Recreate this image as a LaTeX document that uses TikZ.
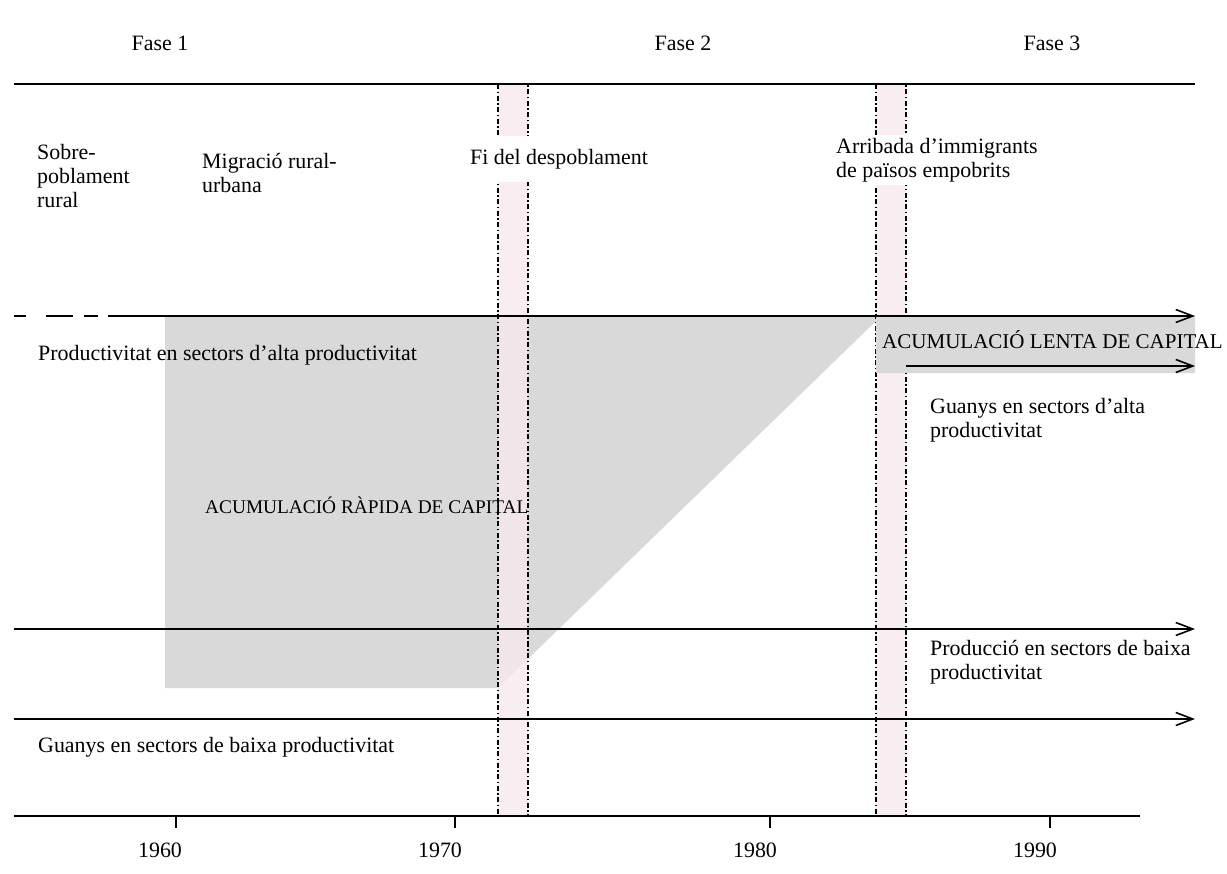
\documentclass[tikz,border=0pt]{standalone}
\usepackage{fontspec}
\setmainfont{Liberation Serif}
\usetikzlibrary{arrows.meta}
\definecolor{shadegray}{RGB}{217,217,217}
\definecolor{barpink}{RGB}{246,234,238}
\begin{document}
\begin{tikzpicture}[x=1bp,y=-1bp,
  every node/.style={font=\fontsize{22}{24}\selectfont, inner sep=0pt},
  lbl/.style={anchor=west, align=left},
  capslbl/.style={anchor=west},
  axisline/.style={line width=1.6bp, black},
  flow/.style={line width=1.6bp, -{Straight Barb[length=17bp,width=13bp,line width=1.6bp]}},
  periodbar/.style={fill=barpink, fill opacity=0.8, draw=black, draw opacity=1, line width=2bp,
    dash pattern=on 5bp off 2.5bp on 1.5bp off 2.5bp},
  gapbox/.style={fill=white, inner xsep=3bp}
]
\useasboundingbox (0,0) rectangle (1227,874);

% shaded accumulation area
\fill[shadegray] (165,316) -- (1195,316) -- (1195,373) -- (876,373) -- (876,321)
  -- (498,688) -- (165,688) -- cycle;

% period bars
\draw[periodbar] (498,84) rectangle (528,816);
\draw[periodbar] (876,84) rectangle (906,816);

% slow accumulation box on top of second bar
\fill[shadegray] (876,316) rectangle (1195,373);

% coordinates
\coordinate (topL) at (14,84);
\coordinate (topR) at (1195,84);
\coordinate (axL) at (14,816);
\coordinate (axR) at (1140,816);
\coordinate (dashS) at (14,316);
\coordinate (a1S) at (108,316);
\coordinate (a1E) at (1195,316);
\coordinate (a2S) at (906,366);
\coordinate (a2E) at (1195,366);
\coordinate (a3S) at (14,629);
\coordinate (a3E) at (1195,629);
\coordinate (a4S) at (14,719);
\coordinate (a4E) at (1195,719);
\coordinate (t1) at (176,816);
\coordinate (t2) at (455,816);
\coordinate (t3) at (770,816);
\coordinate (t4) at (1050,816);

% horizontal lines
\draw[axisline] (topL) -- (topR);
\draw[axisline] (axL) -- (axR);
\foreach \t in {t1,t2,t3,t4} \draw[axisline] (\t) -- ++(0,12);

\draw[axisline, dash pattern=on 12bp off 20bp on 27bp off 11bp on 14bp off 11bp] (dashS) -- (a1S);
\draw[flow] (a1S) -- (a1E);
\draw[flow] (a2S) -- (a2E);
\draw[flow] (a3S) -- (a3E);
\draw[flow] (a4S) -- (a4E);

% phase labels
\node (fase1) at (160,43) {Fase 1};
\node (fase2) at (683,43) {Fase 2};
\node (fase3) at (1052,43) {Fase 3};

% top row labels
\node[lbl] (sobre) at (37,176) {Sobre-\\poblament\\rural};
\node[lbl] (migr) at (202,173) {Migració rural-\\urbana};
\node[lbl, gapbox, inner ysep=13bp] (fi) at (467,159) {Fi del despoblament};
\node[lbl, gapbox, inner ysep=3bp] (arr) at (833,160) {Arribada d’immigrants\\de països empobrits};

% middle labels
\node[lbl] (prodalta) at (38,355) {Productivitat en sectors d’alta productivitat};
\node[capslbl, font=\fontsize{19.4}{23}\selectfont] (rapida) at (205,505) {ACUMULACIÓ RÀPIDA DE CAPITAL};
\node[capslbl, font=\fontsize{21.1}{23}\selectfont] (lenta) at (882,340) {ACUMULACIÓ LENTA DE CAPITAL};
\node[lbl] (guanysalta) at (930,420) {Guanys en sectors d’alta\\productivitat};
\node[lbl] (prodbaixa) at (930,662) {Producció en sectors de baixa\\productivitat};
\node[lbl] (guanysbaixa) at (38,747) {Guanys en sectors de baixa productivitat};

% years
\node (y1960) at (160,850) {1960};
\node (y1970) at (440,850) {1970};
\node (y1980) at (755,850) {1980};
\node (y1990) at (1035,850) {1990};
\end{tikzpicture}
\end{document}
